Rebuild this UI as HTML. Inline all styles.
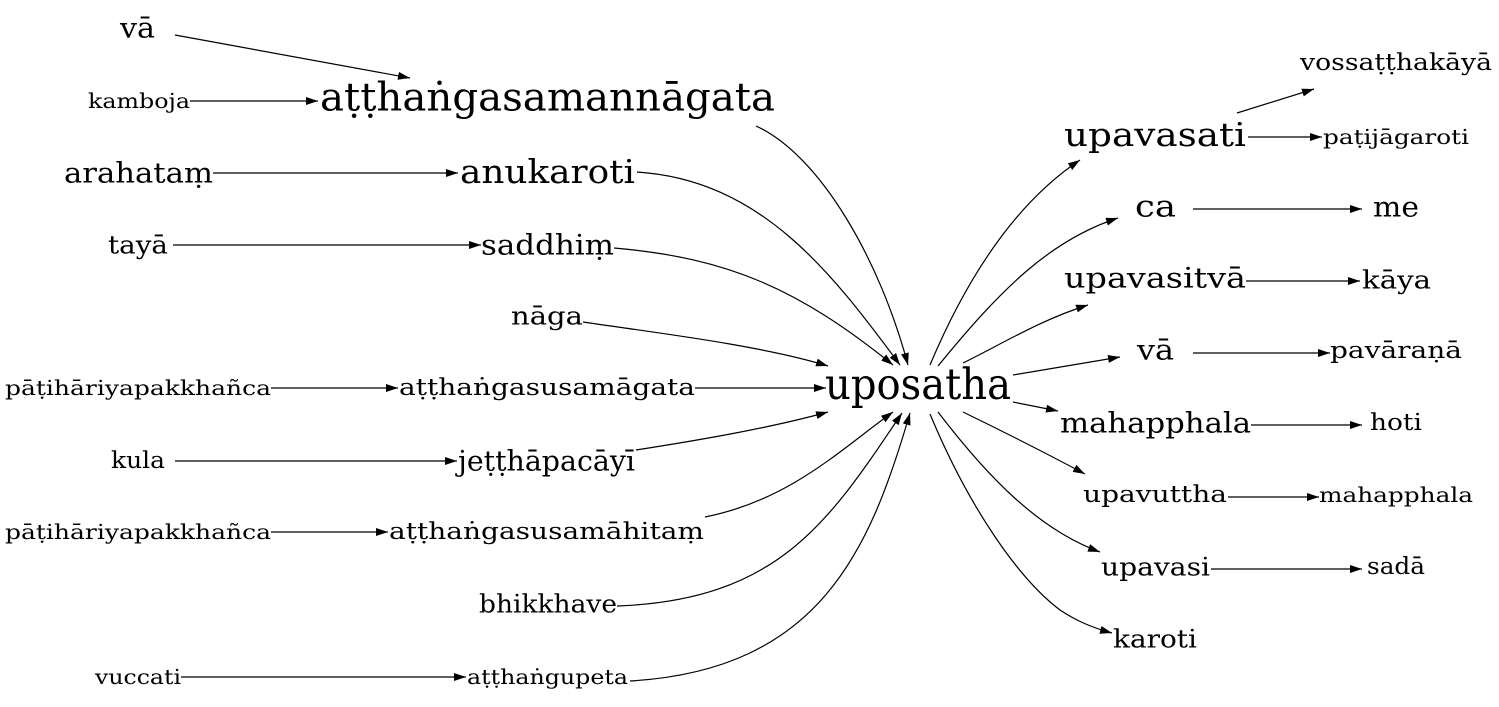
<!DOCTYPE html>
<html><head><meta charset="utf-8"><style>
html,body{margin:0;padding:0;background:#fff;}
svg{display:block;}
text{font-family:"DejaVu Serif","Liberation Serif",serif;fill:#000;}
</style></head><body>
<svg width="1499" height="707" viewBox="0 0 1499 707">
<defs><marker id="ah" markerWidth="12" markerHeight="8" refX="12" refY="4" orient="auto" markerUnits="userSpaceOnUse"><path d="M0,0 L12,4 L0,8 z" fill="#000"/></marker></defs>
<g id="edges" fill="none" stroke="#000" stroke-width="1.2"></g>
<g id="nodes"></g>
</svg>
<script>
const nodes=[
["va-left","vā",120,155,28,24],["kamboja","kamboja",88,190,101,18],
["atthangasamannagata","aṭṭhaṅgasamannāgata",320,775,98,36],
["arahatam","arahataṃ",64,213,173,24],["anukaroti","anukaroti",460,635,172,30],
["taya","tayā",108,168,245,22],["saddhim","saddhiṃ",481,614,245,24],
["naga","nāga",511,583,316,22],["patihariya-1","pāṭihāriyapakkhañca",5,271,388,18],
["atthangasusamagata","aṭṭhaṅgasusamāgata",399,695,388,20],
["uposatha","uposatha",825,1011,385,40],["kula","kula",111,165,461,20],
["jetthapacayi","jeṭṭhāpacāyī",458,635,461,24],["patihariya-2","pāṭihāriyapakkhañca",5,271,532,18],
["atthangasusamahitam","aṭṭhaṅgasusamāhitaṃ",389,704,532,20],
["bhikkhave","bhikkhave",479,617,604,22],["vuccati","vuccati",95,181,677,18],
["atthangupeta","aṭṭhaṅgupeta",467,628,677,18],
["upavasati","upavasati",1064,1246,135,30],["vossatthakaya","vossaṭṭhakāyā",1300,1492,63,20],
["patijagaroti","paṭijāgaroti",1323,1469,137,18],["ca","ca",1135,1176,207,28],
["me","me",1373,1419,207,24],["upavasitva","upavasitvā",1064,1246,278,26],
["kaya","kāya",1362,1431,280,22],["va-right","vā",1137,1174,350,24],
["pavarana","pavāraṇā",1330,1462,351,20],["mahapphala","mahapphala",1060,1251,423,26],
["hoti","hoti",1370,1422,423,20],["upavuttha","upavuttha",1083,1227,495,20],
["mahapphala-2","mahapphala",1319,1473,495,18],["upavasi","upavasi",1101,1210,567,22],
["sada","sadā",1367,1425,567,20],["karoti","karoti",1113,1197,639,22]
];
const edges=[
"M175,35 L410,78","M190,101 L318,101","M213,173 L458,173","M173,245 L481,245",
"M271,388 L398,388","M175,461 L457,461","M271,532 L388,532","M181,677 L466,677",
"M756,126 C820,155 880,260 908,365","M637,172 C760,180 830,270 900,365",
"M614,248 C730,258 800,290 893,365","M583,322 C650,332 760,345 828,366",
"M695,388 L826,388","M636,450 C700,440 770,428 828,412",
"M705,517 C790,500 840,450 893,412","M617,606 C780,600 830,520 902,413",
"M630,681 C820,670 870,550 910,413",
"M930,365 C970,270 1020,200 1080,160","M938,366 C1000,290 1050,240 1118,218",
"M963,363 C1000,345 1040,320 1088,305","M1013,375 L1120,357","M1013,402 L1058,411",
"M963,412 C1000,430 1040,450 1085,474","M938,412 C990,480 1040,530 1100,552",
"M930,414 C970,510 1020,580 1060,610 C1075,620 1090,627 1112,633",
"M1237,113 L1314,89","M1248,137 L1322,137","M1193,209 L1362,209","M1246,281 L1360,281",
"M1193,353 L1330,353","M1251,425 L1362,425","M1228,497 L1319,497","M1211,569 L1362,569"
];
const NS="http://www.w3.org/2000/svg";
const eg=document.getElementById('edges'),ng=document.getElementById('nodes');
edges.forEach((d,i)=>{const p=document.createElementNS(NS,'path');p.setAttribute('d',d);p.setAttribute('marker-end','url(#ah)');


eg.appendChild(p);});
nodes.forEach(n=>{const t=document.createElementNS(NS,'text');
const fs=n[5]<=24?n[5]*1.15:n[5]*1.08;
t.setAttribute('x',(n[2]+n[3])/2);t.setAttribute('y',n[4]);
t.setAttribute('text-anchor','middle');t.setAttribute('dominant-baseline','central');
t.setAttribute('font-size',fs);t.setAttribute('textLength',n[3]-n[2]);t.setAttribute('lengthAdjust','spacingAndGlyphs');
t.textContent=n[1];


ng.appendChild(t);});
</script>
</body></html>
